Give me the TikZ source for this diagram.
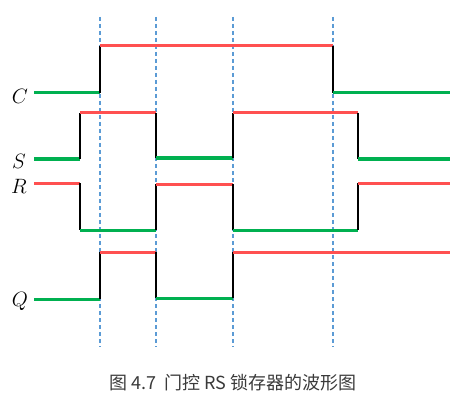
\documentclass[tikz,border=0pt]{standalone}
\usepackage{fontspec}
\newfontfamily\cjk{Noto Sans CJK SC}
\usetikzlibrary{positioning}

\definecolor{wavered}{HTML}{FF5050}
\definecolor{wavegreen}{HTML}{00B050}
\definecolor{guideblue}{HTML}{5B9BD5}
\definecolor{captiongray}{HTML}{3A3A3A}

\tikzset{
    high/.style={draw=wavered, line width=3pt},
    low/.style={draw=wavegreen, line width=3pt},
    edge/.style={draw=black, line width=1.8pt},
    guide/.style={draw=guideblue, line width=1.2pt, dash pattern=on 4pt off 3pt},
    signame/.style={font=\fontsize{21.5}{25}\selectfont, inner sep=0pt},
    caption/.style={font=\cjk\fontsize{18}{22}\selectfont, text=captiongray, inner sep=0pt}
}

\begin{document}
\begin{tikzpicture}[x=1pt, y=-1pt]
        \useasboundingbox (0,0) rectangle (473,406);
        % sampling instants
        \foreach \t in {100,156,233,333}
            \draw[guide] (\t,17) -- (\t,347);

        % C
        \node[signame] (nameC) at (20,96) {$C$};
        \draw[low] (34,93) -- (100,93);
        \draw[edge] (100,93) -- (100,46);
        \draw[high] (100,46) -- (333,46);
        \draw[edge] (333,46) -- (333,93);
        \draw[low] (333,93) -- (450,93);

        % S
        \node[signame] (nameS) at (19,161) {$S$};
        \draw[low] (34,159) -- (80,159);
        \draw[edge] (80,159) -- (80,113);
        \draw[high] (80,113) -- (156,113);
        \draw[edge] (156,113) -- (156,158);
        \draw[low] (156,158) -- (233,158);
        \draw[edge] (233,158) -- (233,113);
        \draw[high] (233,113) -- (358,113);
        \draw[edge] (358,113) -- (358,159);
        \draw[low] (358,159) -- (450,159);

        % R
        \node[signame] (nameR) at (19,186) {$R$};
        \draw[high] (34,183) -- (80,183);
        \draw[edge] (80,183) -- (80,230);
        \draw[low] (80,230) -- (156,230);
        \draw[edge] (156,230) -- (156,184);
        \draw[high] (156,184) -- (233,184);
        \draw[edge] (233,184) -- (233,230);
        \draw[low] (233,230) -- (358,230);
        \draw[edge] (358,230) -- (358,183);
        \draw[high] (358,183) -- (450,183);

        % Q
        \node[signame] (nameQ) at (20,301) {$Q$};
        \draw[low] (34,299) -- (100,299);
        \draw[edge] (100,299) -- (100,252);
        \draw[high] (100,252) -- (156,252);
        \draw[edge] (156,252) -- (156,298);
        \draw[low] (156,298) -- (233,298);
        \draw[edge] (233,298) -- (233,252);
        \draw[high] (233,252) -- (450,252);

        \node[caption] (figcap) at (233,383) {图 4.7\ \ 门控 RS 锁存器的波形图};
\end{tikzpicture}
\end{document}
